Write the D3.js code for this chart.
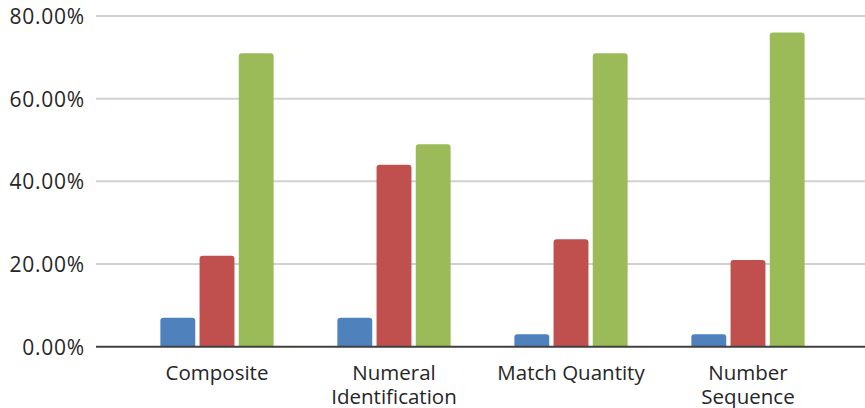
<!DOCTYPE html>
<html><head><meta charset="utf-8">
<script src="https://cdn.jsdelivr.net/npm/d3@7"></script>
<style>
html,body{margin:0;padding:0;background:#fff;}
svg text{font-family:"Open Sans",sans-serif;fill:#262626;}
</style></head>
<body><svg id="c" width="865" height="408"></svg>
<script>
const categories = [["Composite"], ["Numeral","Identification"], ["Match Quantity"], ["Number","Sequence"]];
const seriesNames = ["Series 1","Series 2","Series 3"];
const series1 = [0.07, 0.07, 0.03, 0.03];
const series2 = [0.22, 0.44, 0.26, 0.21];
const series3 = [0.71, 0.49, 0.71, 0.76];
const yTicks = [0, 0.2, 0.4, 0.6, 0.8];
const colors = ["#4F81BD", "#C0504D", "#9BBB59"];

const svg = d3.select("#c");
const y = d3.scaleLinear().domain([0, 0.8]).range([346.7, 16]);
const x0 = d3.scaleBand().domain(d3.range(categories.length)).range([128.5, 836.5]).paddingInner(0.36).paddingOuter(0.18);
const x1 = d3.scaleBand().domain(d3.range(3)).range([0, x0.bandwidth()]).paddingInner(0.11);

// gridlines
svg.append("g").selectAll("line").data(yTicks.slice(1)).join("line")
  .attr("x1", 96).attr("x2", 865)
  .attr("y1", d => y(d)).attr("y2", d => y(d))
  .attr("stroke", "#d0d0d0").attr("stroke-width", 2);

// y labels
const yAxis = d3.axisLeft(y).tickValues(yTicks).tickFormat(d => d3.format(".2%")(d)).tickSize(0).tickPadding(0);
const ya = svg.append("g").attr("transform", "translate(84.7,0)").call(yAxis);
ya.select(".domain").remove();
ya.selectAll("text").style("font-size", "21px").style("letter-spacing", "0.7px").attr("fill", "#262626").attr("dy", "0.36em");

const data = [series1, series2, series3];
const g = svg.append("g");
categories.forEach((c, i) => {
  data.forEach((s, k) => {
    const bx = x0(i) + x1(k);
    g.append("path")
      .attr("d", (() => {
        const r = 3, w = x1.bandwidth(), top = y(s[i]), bot = y(0);
        return `M${bx},${bot}V${top + r}Q${bx},${top} ${bx + r},${top}H${bx + w - r}Q${bx + w},${top} ${bx + w},${top + r}V${bot}Z`;
      })())
      .attr("fill", colors[k]);
  });
});

// x axis line
svg.append("line").attr("x1", 96).attr("x2", 865).attr("y1", y(0)).attr("y2", y(0))
  .attr("stroke", "#404040").attr("stroke-width", 2);

// category labels
const xAxis = d3.axisBottom(x0).tickSize(0).tickFormat(() => "");
const xa = svg.append("g").attr("transform", `translate(0,${y(0)})`).call(xAxis);
xa.select(".domain").remove();
xa.selectAll(".tick").each(function(d) {
  const t = d3.select(this).append("text").attr("text-anchor", "middle")
    .style("font-size", "20.5px").attr("fill", "#262626");
  categories[d].forEach((line, j) => {
    t.append("tspan").attr("x", 0).attr("y", 33.5 + j * 23.5).text(line);
  });
});
</script></body></html>
